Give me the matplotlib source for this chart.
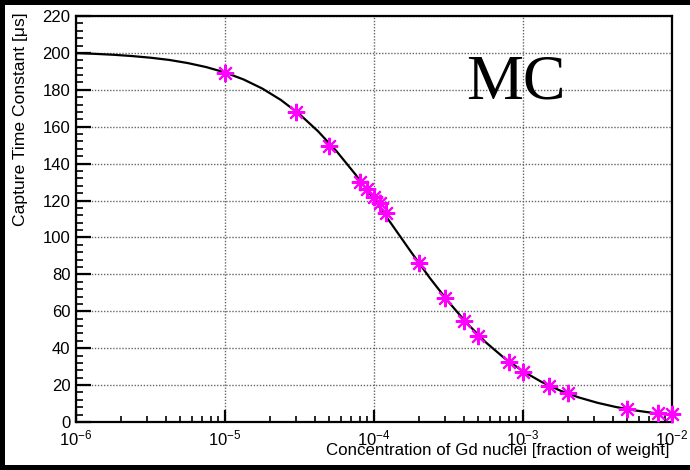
import matplotlib
matplotlib.use("Agg")
import numpy as np
import matplotlib.pyplot as plt
from matplotlib.patches import Rectangle
from matplotlib.ticker import LogLocator, MultipleLocator, LogFormatterSciNotation, NullFormatter

plt.rcParams['font.family'] = ['Liberation Sans', 'DejaVu Sans']
plt.rcParams['mathtext.fontset'] = 'custom'
plt.rcParams['mathtext.rm'] = 'Liberation Sans'
plt.rcParams['mathtext.it'] = 'Liberation Sans:italic'
plt.rcParams['mathtext.bf'] = 'Liberation Sans:bold'

# Measured points (MC)
conc = [1e-5, 3e-5, 5e-5, 8e-5, 9e-5, 1e-4, 1.1e-4, 1.2e-4, 2e-4, 3e-4, 4e-4,
        5e-4, 8e-4, 1e-3, 1.5e-3, 2e-3, 5e-3, 8e-3, 1e-2]
tau = [189, 168, 149.5, 130, 126, 122, 118.5, 113.5, 86, 67, 55,
       46.5, 32.3, 27.1, 19.5, 15.6, 6.9, 5.1, 4.2]

# Fit curve (log10 of concentration, time constant)
fit_logc = [-6.0, -5.875, -5.75, -5.625, -5.5, -5.375, -5.25, -5.125, -5.0,
            -4.875, -4.75, -4.625, -4.5, -4.375, -4.25, -4.125, -4.0,
            -3.875, -3.75, -3.625, -3.5, -3.375, -3.25, -3.125, -3.0,
            -2.875, -2.75, -2.625, -2.5, -2.375, -2.25, -2.125, -2.0]
fit_tau = [199.9, 199.5, 199.0, 198.3, 197.4, 196.2, 194.5, 192.3, 189.4,
           185.6, 180.7, 174.5, 166.8, 157.5, 146.6, 134.2, 120.6,
           106.4, 92.0, 78.0, 65.1, 53.4, 43.2, 34.6, 27.5,
           21.7, 17.0, 13.3, 10.4, 8.1, 6.3, 4.9, 3.8]

W, H = 690, 470
fig = plt.figure(figsize=(W / 100, H / 100), dpi=100, facecolor='white')
# black frame on left, top and bottom edges
for (x0, y0, w, h) in [(0, 0, 5, H), (0, H - 5, W, 5), (0, 0, W, 5)]:
    fig.patches.append(Rectangle((x0 / W, y0 / H), w / W, h / H, transform=fig.transFigure,
                                 facecolor='black', edgecolor='none', zorder=-10))

ax = fig.add_axes([76 / W, 48 / H, 596 / W, 406 / H])
ax.set_xscale('log')
ax.set_xlim(1e-6, 1e-2)
ax.set_ylim(0, 220)

ax.plot(np.power(10.0, fit_logc), fit_tau, color='black', lw=1.6, zorder=3)
ax.plot(conc, tau, linestyle='none', marker=(8, 2, 0), markersize=12.5,
        markeredgewidth=1.5, color='#ff00ff', clip_on=False, zorder=4)

ax.yaxis.set_major_locator(MultipleLocator(20))
ax.yaxis.set_minor_locator(MultipleLocator(4))
ax.xaxis.set_major_locator(LogLocator(base=10, numticks=10))
ax.xaxis.set_minor_locator(LogLocator(base=10, subs=range(2, 10), numticks=50))
ax.xaxis.set_major_formatter(LogFormatterSciNotation())
ax.xaxis.set_minor_formatter(NullFormatter())

ax.grid(True, which='major', color='0.4', linestyle=(0, (1, 1.2)), lw=1.0)
ax.set_axisbelow(True)

ax.tick_params(axis='y', which='major', direction='in', length=11, width=1.6,
               labelsize=12, pad=4, right=False)
ax.tick_params(axis='y', which='minor', direction='in', length=5, width=1.2, right=False)
ax.tick_params(axis='x', which='major', direction='in', length=8.5, width=1.6,
               labelsize=12, pad=5, top=False)
ax.tick_params(axis='x', which='minor', direction='in', length=4, width=1.2, top=False)

for s in ax.spines.values():
    s.set_linewidth(1.6)
    s.set_color('black')

fig.text(670 / W, (H - 455) / H, 'Concentration of Gd nuclei [fraction of weight]',
         ha='right', va='baseline', fontsize=12.2)
fig.text(21 / W, (H - 12) / H, 'Capture Time Constant [\u03bcs]', rotation=90,
         ha='center', va='top', fontsize=12.6)

ax.text(0.654, 0.798, 'MC', transform=ax.transAxes, fontsize=46,
        family=['Liberation Serif', 'DejaVu Serif'], ha='left', va='baseline')

fig.savefig('out.png', dpi=100, facecolor=fig.get_facecolor())
